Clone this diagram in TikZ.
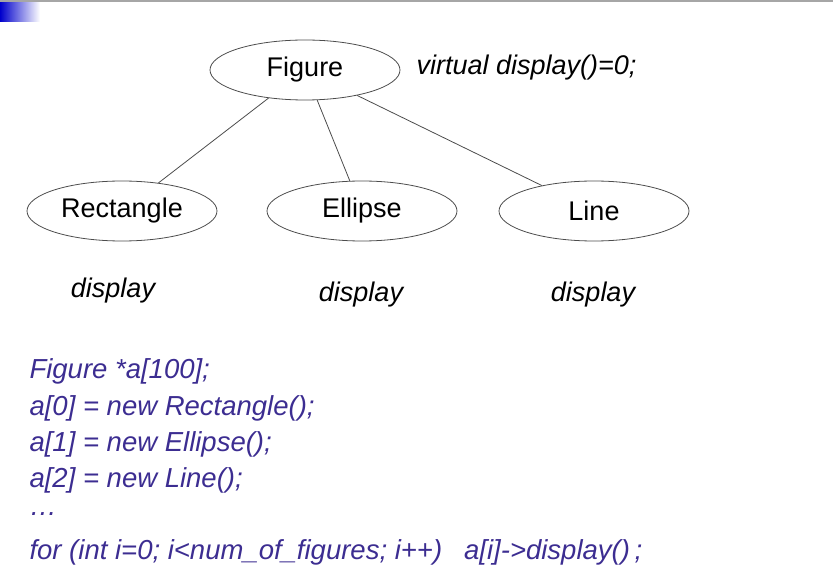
\documentclass[tikz,border=0pt]{standalone}
\usepackage{fontspec}
\setmainfont{Liberation Sans}
\usetikzlibrary{shapes.geometric}
\definecolor{codeblue}{RGB}{60,45,145}
\begin{document}
\begin{tikzpicture}[x=1pt,y=-1pt,
  cls/.style={ellipse,draw=black!70,thick,minimum width=190,minimum height=60,font=\fontsize{27}{30}\selectfont},
  note/.style={font=\fontsize{27}{30}\selectfont\itshape},
  code/.style={anchor=west,text=codeblue,font=\fontsize{27.5}{32}\selectfont\itshape}]
  \useasboundingbox (0,0) rectangle (833,580);
  \shade[left color=blue!80!black,right color=white] (0,0) rectangle (40,22);
  \draw[black!35,line width=2] (0,1) -- (833,1);

  \node[cls] (fig) at (305,70) {Figure};
  \node[cls] (rect) at (122,211) {Rectangle};
  \node[cls] (ell) at (362,211) {Ellipse};
  \node[cls] (line) at (594,211) {Line};

  \node[note,anchor=west] (virt) at (413,68) {virtual display()=0;};
  \node[note] (d1) at (113,291) {display};
  \node[note] (d2) at (361,295) {display};
  \node[note] (d3) at (593,295) {display};

  \draw[black!70,thick] (fig) -- (rect);
  \draw[black!70,thick] (fig) -- (ell);
  \draw[black!70,thick] (fig) -- (line);

  \node[code] (c1) at (26,371) {Figure *a[100];};
  \node[code] (c2) at (26,408) {a[0] = new Rectangle();};
  \node[code] (c3) at (26,444) {a[1] = new Ellipse();};
  \node[code] (c4) at (26,480) {a[2] = new Line();};
  \node[code] (c5) at (26,514) {\dots};
  \node[code] (c6) at (26,552) {for (int i=0; i<num\_of\_figures; i++)\hspace{22pt}a[i]->display()\,;};
\end{tikzpicture}
\end{document}
